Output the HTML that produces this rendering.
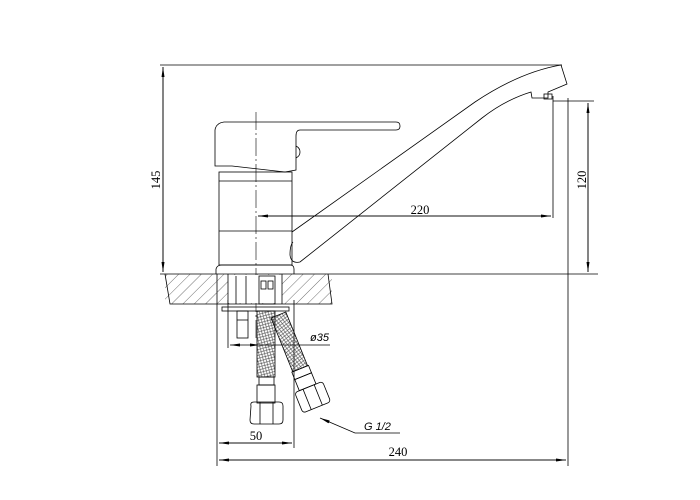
<!DOCTYPE html>
<html><head><style>body{margin:0;background:#fff}svg{display:block}</style></head><body>
<svg width="700" height="500" viewBox="0 0 700 500" xmlns="http://www.w3.org/2000/svg" font-family="Liberation Serif, serif" font-size="12.5">
<defs>
<pattern id="h" width="8" height="8" patternUnits="userSpaceOnUse" patternTransform="rotate(45)"><line x1="0" y1="0" x2="0" y2="8" stroke="#333" stroke-width="0.7"/></pattern>
<pattern id="br" width="4" height="4" patternUnits="userSpaceOnUse" patternTransform="rotate(30)"><path d="M0 0L2 2L4 0M0 4L2 2L4 4" stroke="#444" stroke-width="0.6" fill="none"/></pattern>
<marker id="a" markerWidth="10" markerHeight="6" refX="10" refY="3" orient="auto" markerUnits="userSpaceOnUse"><path d="M0 1.5L10 3L0 4.5Z" fill="#000"/></marker>
</defs>
<g stroke="#000" fill="none" stroke-width="0.8">
<line x1="160" y1="65" x2="562" y2="65"/>
<line x1="160" y1="274" x2="598" y2="274"/>
<line x1="553" y1="101" x2="594" y2="101"/>
<line x1="553" y1="96" x2="553" y2="218"/>
<line x1="568" y1="98" x2="568" y2="466"/>
<line x1="217" y1="274" x2="217" y2="466"/>
<line x1="294" y1="300" x2="294" y2="448"/>
<line x1="228" y1="300" x2="228" y2="348"/>
<line x1="163" y1="272" x2="163" y2="67" marker-end="url(#a)"/>
<line x1="163" y1="67" x2="163" y2="272" marker-end="url(#a)"/>
<line x1="588" y1="103" x2="588" y2="272" marker-end="url(#a)"/>
<line x1="588" y1="272" x2="588" y2="103" marker-end="url(#a)"/>
<line x1="258" y1="216" x2="551" y2="216" marker-end="url(#a)"/>
<line x1="551" y1="216" x2="258" y2="216" marker-end="url(#a)"/>
<line x1="219" y1="443" x2="292" y2="443" marker-end="url(#a)"/>
<line x1="292" y1="443" x2="219" y2="443" marker-end="url(#a)"/>
<line x1="219" y1="460" x2="566" y2="460" marker-end="url(#a)"/>
<line x1="566" y1="460" x2="219" y2="460" marker-end="url(#a)"/>
<line x1="330" y1="345" x2="230" y2="345" marker-end="url(#a)"/>
<line x1="260" y1="345" x2="270" y2="345" marker-start="url(#a)"/>
<path d="M400 433H355L320 418" marker-end="url(#a)"/>
<line x1="256" y1="112" x2="256" y2="340" stroke-dasharray="18 3 2 3" stroke-width="0.6"/>
<rect x="165" y="274" width="167" height="30" fill="url(#h)" stroke="none"/>
<rect x="228" y="275" width="54" height="28" fill="#fff" stroke="none"/>
<path d="M165 274L170 304H332L328 274"/>
<line x1="228" y1="274" x2="228" y2="304"/><line x1="282" y1="274" x2="282" y2="304"/>
<line x1="236" y1="276" x2="236" y2="304"/><line x1="246" y1="276" x2="246" y2="304"/>
<rect x="259" y="276" width="16" height="28"/><rect x="261" y="281" width="5" height="8"/><rect x="268" y="281" width="5" height="8"/>
<rect x="222" y="307" width="67" height="4"/>
<rect x="237" y="311" width="11" height="27"/><line x1="237" y1="320" x2="248" y2="320"/>
<path d="M216 274V269Q217 265 222 265H290Q294 265 294 269V274"/>
<rect x="219" y="172" width="73" height="93"/>
<line x1="219" y1="181" x2="292" y2="181"/>
<line x1="219" y1="231" x2="292" y2="231"/>
<path d="M215 130Q216 123 224 122H396Q400 122 400 126Q400 130 396 130H300Q296 130 296 136V170L285 172Q250 168 232 166H215Z"/>
<path d="M296 146Q300 148 300 152Q300 156 296 158"/>
<path d="M292 232L475 102Q520 72 561 65L567 84L548 92V98H532L531 92Q505 100 482 118L300 262Q291 264 290 255Q290 245 293 242"/>
<rect x="544" y="94" width="8" height="5"/>
<rect x="257" y="311" width="18" height="66" fill="url(#br)"/>
<rect x="259" y="377" width="15" height="8"/><rect x="257" y="385" width="18" height="18"/>
<path d="M251 406Q250 402 254 402H279Q283 402 283 406V420Q283 424 279 424H254Q250 424 250 420Z"/>
<line x1="260" y1="402" x2="260" y2="424"/><line x1="273" y1="402" x2="273" y2="424"/>
<g transform="translate(271,318) rotate(-22)">
<rect x="0" y="0" width="16" height="58" fill="url(#br)"/>
<rect x="-1" y="58" width="18" height="8"/><rect x="-1" y="66" width="18" height="12"/>
<rect x="-6" y="78" width="30" height="22" rx="3"/>
<line x1="3" y1="78" x2="3" y2="100"/><line x1="15" y1="78" x2="15" y2="100"/>
</g>
</g>
<g fill="#000">
<text x="420" y="214" text-anchor="middle">220</text>
<text x="256" y="440" text-anchor="middle">50</text>
<text x="398" y="456" text-anchor="middle">240</text>
<text x="310" y="341" font-style="italic" font-family="Liberation Sans, sans-serif" font-size="11">ø35</text>
<text x="364" y="430" font-style="italic" font-family="Liberation Sans, sans-serif" font-size="11">G 1/2</text>
<text transform="translate(160,180) rotate(-90)" text-anchor="middle">145</text>
<text transform="translate(586,180) rotate(-90)" text-anchor="middle">120</text>
</g>
</svg>
</body></html>
